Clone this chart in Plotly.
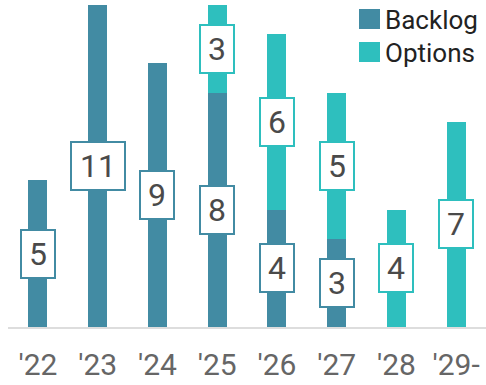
import plotly.graph_objects as go

years = ["'22", "'23", "'24", "'25", "'26", "'27", "'28", "'29-"]
backlog = [5, 11, 9, 8, 4, 3, 0, 0]
options = [0, 0, 0, 3, 6, 5, 4, 7]
series_names = ["Backlog", "Options"]
colors = ["#428ba3", "#2ebfbe"]

FONT = "Roboto"
fig = go.Figure()
fig.add_trace(go.Bar(x=years, y=backlog, name=series_names[0], marker_color=colors[0],
                     marker_line_width=0, showlegend=False))
fig.add_trace(go.Bar(x=years, y=options, name=series_names[1], marker_color=colors[1],
                     marker_line_width=0, showlegend=False))

# value labels in boxes, centered in each segment
for i, yr in enumerate(years):
    base = 0
    for vals, col in ((backlog, colors[0]), (options, colors[1])):
        v = vals[i]
        if v > 0:
            txt = str(v)
            fig.add_annotation(x=yr, y=base + v / 2, text=txt, showarrow=False,
                               xref="x", yref="y",
                               font=dict(family=FONT, size=32, color="#4a4a4a"),
                               bgcolor="white", bordercolor=col, borderwidth=2,
                               borderpad=0, width=32 if len(txt) == 1 else 52, height=46)
        base += v

# manual legend
W, H = 478, 327
def px_x(p):
    return (p - 8) / W
def px_y(p):
    return (H - p) / H
for k, (nm, col) in enumerate(zip(series_names, colors)):
    top = 9 + 33 * k
    fig.add_shape(type="rect", xref="paper", yref="paper",
                  x0=px_x(359), x1=px_x(380), y0=px_y(top + 20), y1=px_y(top),
                  fillcolor=col, line_width=0)
    fig.add_annotation(xref="paper", yref="paper", x=px_x(383), y=px_y(top + 11),
                       xanchor="left", yanchor="middle", text=nm, showarrow=False,
                       font=dict(family=FONT, size=26, color="#222222"))

fig.update_layout(
    barmode="stack", bargap=0.68,
    width=486, height=385,
    margin=dict(l=8, r=0, t=0, b=58, autoexpand=False),
    plot_bgcolor="white", paper_bgcolor="white",
    xaxis=dict(showline=True, linecolor="#dddddd", linewidth=2, ticks="",
               ticklabelstandoff=10, automargin=False,
               tickfont=dict(family=FONT, size=30, color="#666666"),
               showgrid=False, zeroline=False, fixedrange=True),
    yaxis=dict(range=[0, 11.16], visible=False, showgrid=False, zeroline=False,
               automargin=False),
)
fig.write_html("out.html")
